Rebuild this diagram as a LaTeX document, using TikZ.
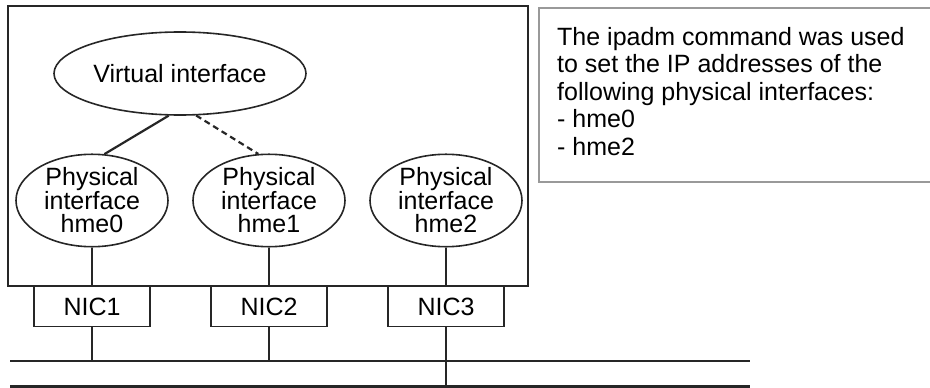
\documentclass[tikz,border=0pt]{standalone}
\usepackage{fontspec}
\setmainfont{Liberation Sans}
\usetikzlibrary{shapes.geometric}

\tikzset{
  ifellipse/.style={draw=black!85, line width=1.6pt, ellipse, inner sep=0pt, align=center,
    font=\fontsize{25}{23.5}\selectfont},
  nicbox/.style={draw=black!85, line width=1.6pt, minimum width=116pt, minimum height=40pt,
    inner sep=0pt, font=\fontsize{25}{25}\selectfont},
  link/.style={draw=black!85, line width=2.2pt},
}

\begin{document}
\begin{tikzpicture}[x=1pt,y=-1pt]
  \useasboundingbox (0,0) rectangle (930,388);

  \node[draw=black!85, line width=1.6pt, minimum width=520pt, minimum height=280pt, inner sep=0pt] (host) at (268,146) {};

  \node[ifellipse, minimum width=252pt, minimum height=83pt] (virt) at (180,73.5) {Virtual interface};
  \foreach \i/\x in {0/92,1/269,2/446} {
    \node[ifellipse, minimum width=152pt, minimum height=85pt] (phys\i) at (\x,200.5)
      {Physical\\interface\\hme\i};
  }
  \foreach \i/\x in {1/92,2/269,3/446} {
    \node[nicbox] (nic\i) at (\x,306.5) {NIC\i};
  }

  \coordinate (busa) at (10,361);
  \coordinate (busaend) at (750,361);
  \coordinate (busb) at (10,386.5);
  \coordinate (busbend) at (750,386.5);
  \draw[link] (busa) -- (busaend);
  \draw[link] (busb) -- (busbend);

  \draw[link] (virt.255) -- (phys0.75);
  \draw[link, dash pattern=on 6pt off 4pt] (virt.291) -- (phys1.103);

  \draw[link] (phys0.south) -- (nic1.north);
  \draw[link] (phys1.south) -- (nic2.north);
  \draw[link] (phys2.south) -- (nic3.north);
  \draw[link] (nic1.south) -- (nic1.south |- busa);
  \draw[link] (nic2.south) -- (nic2.south |- busa);
  \draw[link] (nic3.south) -- (nic3.south |- busb);

  \draw[black!40, line width=2pt] (931,8) -- (539,8) -- (539,182) -- (931,182);
  \node[anchor=base west, align=left, inner sep=0pt, font=\fontsize{25}{27.5}\selectfont] (note) at (557,155)
    {The ipadm command was used\\to set the IP addresses of the\\following physical interfaces:\\- hme0\\- hme2};
\end{tikzpicture}
\end{document}
